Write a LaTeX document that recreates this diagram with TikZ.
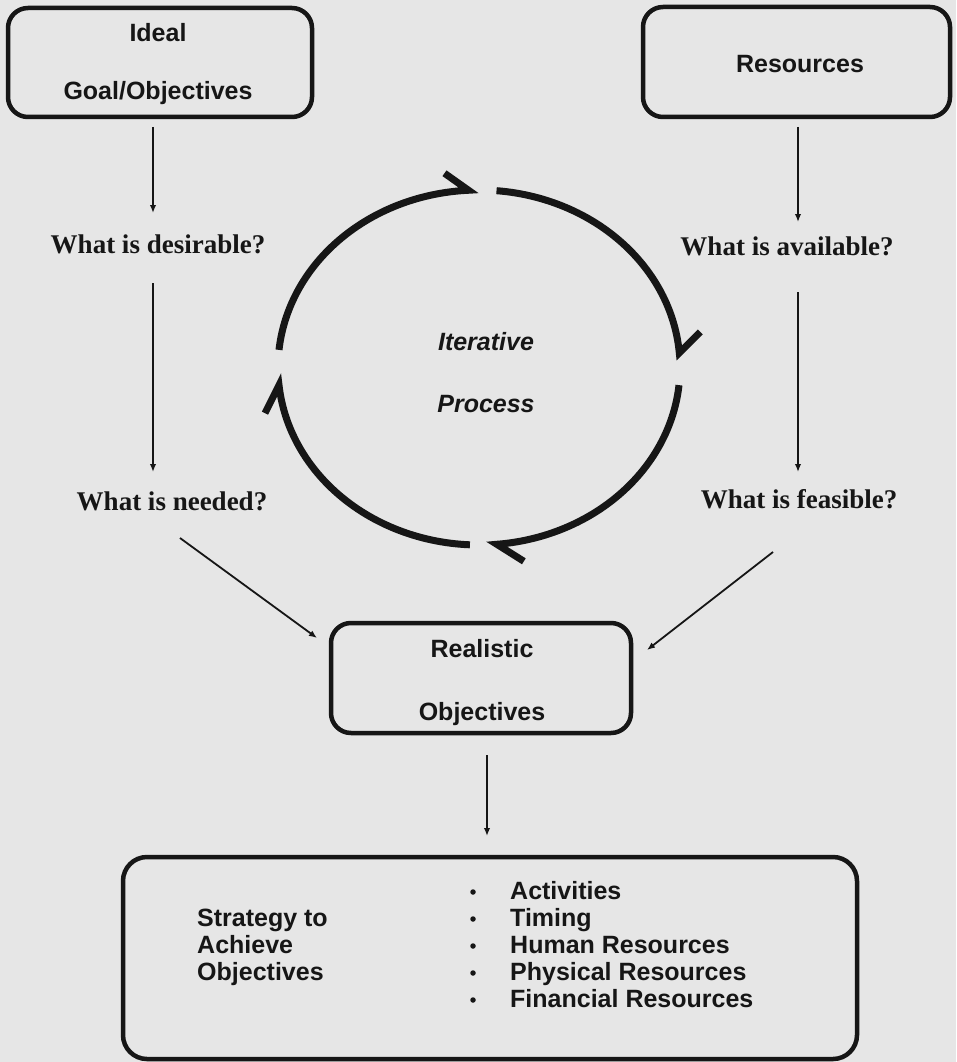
\documentclass[tikz,border=0pt]{standalone}
\usepackage{fontspec}
\setmainfont{Liberation Sans}
\newfontfamily\qfont{Liberation Serif}
\usetikzlibrary{arrows.meta}
\definecolor{paper}{RGB}{230,230,230}
\definecolor{ink}{RGB}{22,22,22}
\begin{document}
\begin{tikzpicture}[x=1pt,y=-1pt,
  box/.style={draw=ink, line width=4.5pt, rounded corners=20pt, inner sep=0pt, rectangle},
  boxlbl/.style={font=\fontsize{25}{28}\selectfont\bfseries, text=ink, anchor=base, inner sep=0pt},
  listlbl/.style={boxlbl, anchor=base west},
  cyclbl/.style={font=\fontsize{25}{28}\selectfont\bfseries\itshape, text=ink, anchor=base, inner sep=0pt},
  question/.style={font=\qfont\fontsize{27}{30}\selectfont\bfseries, text=ink, anchor=base, inner sep=0pt},
  flow/.style={draw=ink, line width=1.8pt, -{Latex[length=8pt,width=6.5pt]}},
  cyc/.style={draw=ink, line width=7pt, line join=miter},
  dot/.style={circle, fill=ink, inner sep=0pt, minimum size=5.5pt}]

% page
\fill[paper] (0,0) rectangle (956,1062);
\useasboundingbox (0,0) rectangle (956,1062);

% boxes
\node[box, minimum width=304pt, minimum height=109pt] (ideal) at (160,62.5) {};
\node[box, minimum width=307pt, minimum height=110pt] (res) at (796.5,62) {};
\node[box, minimum width=300pt, minimum height=110pt] (real) at (481,678) {};
\node[box, minimum width=734pt, minimum height=202pt, rounded corners=24pt] (strat) at (490,958) {};

% box labels
\node[boxlbl] (idealA) at (158,42) {Ideal};
\node[boxlbl] (idealB) at (158,100) {Goal/Objectives};
\node[boxlbl] (resA) at (800,73) {Resources};
\node[boxlbl] (realA) at (482,657) {Realistic};
\node[boxlbl] (realB) at (482,720) {Objectives};

% questions
\node[question] (qdes) at (158,253) {What is desirable?};
\node[question] (qneed) at (172,510) {What is needed?};
\node[question] (qav) at (787,255) {What is available?};
\node[question] (qfeas) at (799,508) {What is feasible?};

% centre of the cycle
\node[cyclbl] (itA) at (486,350) {Iterative};
\node[cyclbl] (itB) at (486,412) {Process};

% strategy box contents
\node[listlbl] (sA) at (197,926) {Strategy to};
\node[listlbl] (sB) at (197,953) {Achieve};
\node[listlbl] (sC) at (197,980) {Objectives};
\foreach \i/\y/\t in {1/899/Activities,2/926/Timing,3/953/Human Resources,4/980/Physical Resources,5/1007/Financial Resources}{
  \node[dot] (b\i) at (473,\y-7) {};
  \node[listlbl] (l\i) at (510,\y) {\t};
}

% connector end points
\coordinate (d1s) at (153,127);
\coordinate (d1e) at (153,213);
\coordinate (d2s) at (153,283);
\coordinate (d2e) at (153,472);
\coordinate (r1s) at (798,127);
\coordinate (r1e) at (798,222);
\coordinate (r2s) at (798,292);
\coordinate (r2e) at (798,472);
\coordinate (nls) at (180,538);
\coordinate (nle) at (317,638);
\coordinate (frs) at (773,552);
\coordinate (fre) at (647,650);
\coordinate (ros) at (487,755);
\coordinate (roe) at (487,836);

\draw[flow] (d1s) -- (d1e);
\draw[flow] (d2s) -- (d2e);
\draw[flow] (r1s) -- (r1e);
\draw[flow] (r2s) -- (r2e);
\draw[flow] (nls) -- (nle);
\draw[flow] (frs) -- (fre);
\draw[flow] (ros) -- (roe);

% iterative cycle: four arcs of an ellipse, each ending in a single barb
\draw[cyc] plot[domain=185.7:267, samples=60] ({479+201*cos(\x)},{367.5+177.5*sin(\x)}) -- ++(-24,-17);
\draw[cyc] plot[domain=275:355.3, samples=60] ({479+201*cos(\x)},{367.5+177.5*sin(\x)}) -- ++(21,-21);
\draw[cyc] plot[domain=5.7:84.9, samples=60] ({479+201*cos(\x)},{367.5+177.5*sin(\x)}) -- ++(27,17);
\draw[cyc] plot[domain=92.6:174.3, samples=60] ({479+201*cos(\x)},{367.5+177.5*sin(\x)}) -- ++(-14,28);
\end{tikzpicture}
\end{document}
